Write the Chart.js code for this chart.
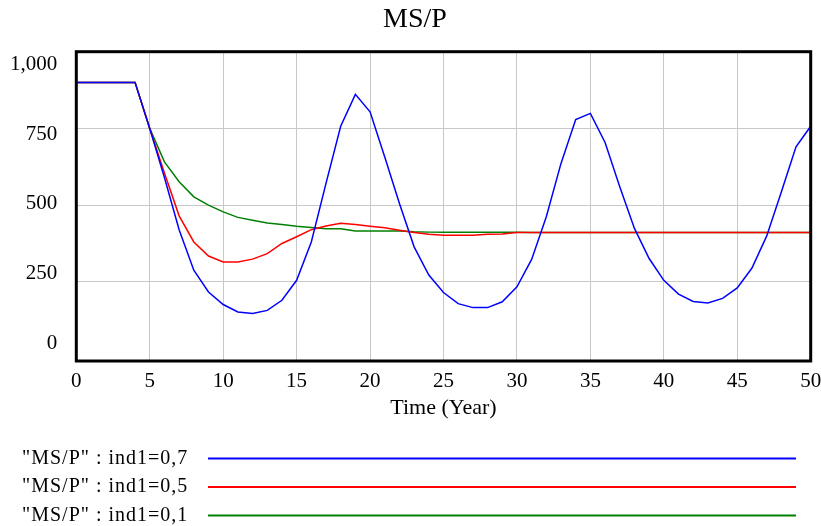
<!DOCTYPE html>
<html>
<head>
<meta charset="utf-8">
<script src="https://cdn.jsdelivr.net/npm/chart.js@4/dist/chart.umd.min.js"></script>
<style>
  html, body { margin: 0; padding: 0; background: #fff; }
  #wrap { width: 821px; height: 526px; }
</style>
</head>
<body>
<div id="wrap"><canvas id="chart"></canvas></div>
<script>
const years = [
  0, 1, 2, 3, 4, 5, 6, 7, 8, 9, 10, 11, 12, 13, 14, 15, 16, 17, 18, 19, 20,
  21, 22, 23, 24, 25, 26, 27, 28, 29, 30, 31, 32, 33, 34, 35, 36, 37, 38, 39,
  40, 41, 42, 43, 44, 45, 46, 47, 48, 49, 50,
];
/* MS/P with ind1 = 0,7 */
const msp07 = [
  900, 900, 900, 900, 900, 750, 590, 420, 288, 217, 176, 152, 147, 157, 190,
  255, 380, 571, 757, 861, 804, 657, 505, 364, 272, 215, 179, 166, 166, 185,
  234, 323, 462, 636, 779, 799, 704, 560, 424, 326, 255, 210, 186, 181, 196,
  230, 295, 399, 543, 690, 757,
];
/* MS/P with ind1 = 0,5 */
const msp05 = [
  900, 900, 900, 900, 900, 750, 605, 465, 380, 334, 315, 315, 324, 342, 375,
  397, 420, 432, 441, 437, 431, 426, 418, 411, 405, 402, 402, 402, 405, 406,
  411, 411, 411, 411, 411, 411, 411, 411, 411, 411, 411, 411, 411, 411, 411,
  411, 411, 411, 411, 411, 411,
];
/* MS/P with ind1 = 0,1 */
const msp01 = [
  900, 900, 900, 900, 900, 750, 641, 576, 527, 500, 478, 460, 451, 442, 437,
  431, 427, 423, 423, 416, 416, 416, 416, 413, 412, 412, 412, 412, 412, 412,
  412, 411, 411, 411, 411, 411, 411, 411, 411, 411, 411, 411, 411, 411, 411,
  411, 411, 411, 411, 411, 411,
];
const seriesLabels = [
  '"MS/P" : ind1=0,7',
  '"MS/P" : ind1=0,5',
  '"MS/P" : ind1=0,1',
];
const chartTitle = "MS/P";
const yTickValues = [0, 250, 500, 750, 1000];
const yTickLabels = ["0", "250", "500", "750", "1,000"];

const serif = "'Liberation Serif', 'Times New Roman', serif";
const gridGrey = "#c8c8c8";

function toPoints(values) {
  return values.map((v, i) => ({ x: years[i], y: v }));
}

/* title, black frame round the plot and the legend rows under the axis */
const frameAndLegend = {
  id: "frameAndLegend",
  afterDraw(chart) {
    const { ctx, chartArea: a } = chart;
    ctx.save();
    ctx.strokeStyle = "#000";
    ctx.lineWidth = 3;
    ctx.strokeRect(a.left, a.top, a.right - a.left, a.bottom - a.top);

    ctx.fillStyle = "#000";
    ctx.font = "28px " + serif;
    ctx.textAlign = "center";
    ctx.textBaseline = "alphabetic";
    ctx.fillText(chartTitle, 415, 26.5);

    ctx.font = "20px " + serif;
    ctx.letterSpacing = "1px";
    ctx.textBaseline = "middle";
    ctx.textAlign = "left";
    chart.data.datasets.forEach((ds, i) => {
      const y = 458.5 + i * 28.5;
      ctx.fillText(ds.label, 22, y);
      ctx.strokeStyle = ds.borderColor;
      ctx.lineWidth = 2;
      ctx.beginPath();
      ctx.moveTo(208, y);
      ctx.lineTo(796, y);
      ctx.stroke();
    });
    ctx.restore();
  },
};

new Chart(document.querySelector("#chart"), {
  type: "line",
  data: {
    datasets: [
      { label: seriesLabels[0], data: toPoints(msp07), borderColor: "#0000ff" },
      { label: seriesLabels[1], data: toPoints(msp05), borderColor: "#ff0000" },
      { label: seriesLabels[2], data: toPoints(msp01), borderColor: "#008000" },
    ],
  },
  options: {
    responsive: true,
    maintainAspectRatio: false,
    animation: false,
    layout: { padding: { left: 0, right: 0, top: 51.7, bottom: 105 } },
    elements: {
      point: { radius: 0 },
      line: { borderWidth: 1.5, tension: 0 },
    },
    plugins: {
      legend: { display: false },
      tooltip: { enabled: false },
      title: { display: false },
    },
    scales: {
      x: {
        type: "linear",
        min: 0,
        max: 50,
        ticks: {
          stepSize: 5,
          color: "#000",
          padding: 8,
          font: { family: serif, size: 21 },
        },
        grid: { color: gridGrey, drawTicks: false },
        border: { display: false },
        title: {
          display: true,
          text: "Time (Year)",
          color: "#000",
          font: { family: serif, size: 22 },
          padding: { top: 0, bottom: 0 },
        },
        afterFit(scale) {
          scale.height = 60;
          /* keep the plot's right edge where the reference has it */
          scale.paddingLeft = 0;
          scale.paddingRight = 10.3;
        },
      },
      y: {
        min: -8,
        max: 1000,
        ticks: { display: false },
        grid: {
          color: (c) => (c.tick && c.tick.value === 0 ? "transparent" : gridGrey),
          drawTicks: false,
        },
        border: { display: false },
        afterBuildTicks(scale) {
          scale.ticks = yTickValues.map((v) => ({ value: v }));
        },
        afterFit(scale) {
          scale.width = 0;
        },
      },
      /* labels only: Vensim spaces them a little tighter than the grid */
      yLabels: {
        position: "left",
        min: -62.7,
        max: 1045,
        grid: { display: false, drawTicks: false },
        border: { display: false },
        ticks: {
          color: "#000",
          padding: 19,
          font: { family: serif, size: 21 },
          callback: (v) => yTickLabels[yTickValues.indexOf(v)],
        },
        afterBuildTicks(scale) {
          scale.ticks = yTickValues.map((v) => ({ value: v }));
        },
        afterFit(scale) {
          scale.width = 76.3;
        },
      },
    },
  },
  plugins: [frameAndLegend],
});
</script>
</body>
</html>
